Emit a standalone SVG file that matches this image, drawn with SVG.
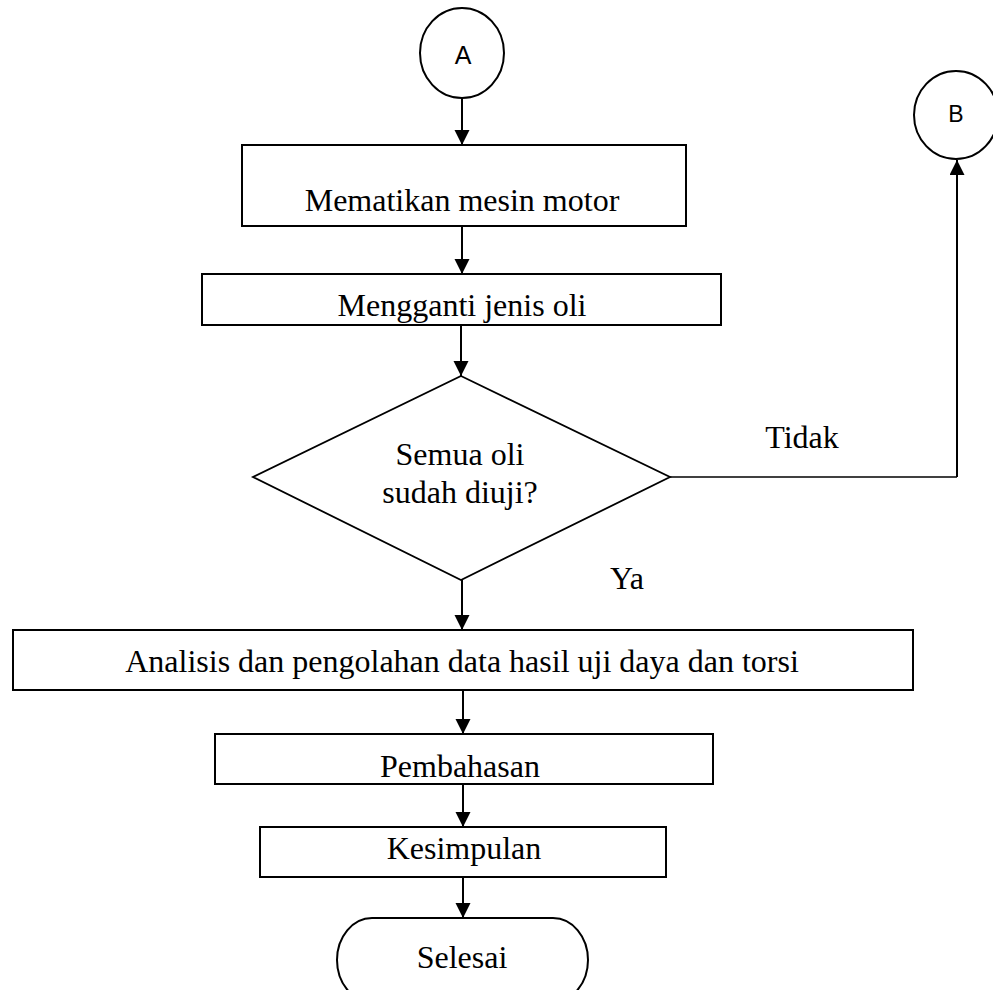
<svg xmlns="http://www.w3.org/2000/svg" width="993" height="990" viewBox="0 0 993 990">
<style>
.box{fill:#fff;stroke:#000;stroke-width:2}
.thin{fill:#fff;stroke:#000;stroke-width:1.8}
.t{font-family:"Liberation Serif","Times New Roman",serif;font-size:32px;fill:#000;text-anchor:middle}
.sa{font-family:"Liberation Sans",Arial,sans-serif;font-size:25px;fill:#000;text-anchor:middle}
.sb{font-family:"Liberation Sans",Arial,sans-serif;font-size:23px;fill:#000;text-anchor:middle}
.c{fill:none;stroke:#000;stroke-width:2}
</style>
<defs>
<marker id="ah" markerUnits="userSpaceOnUse" markerWidth="16" markerHeight="16" refX="15" refY="7.5" orient="auto">
<path d="M0,0 L15,7.5 L0,15 z" fill="#000"/>
</marker>
</defs>
<rect width="993" height="990" fill="#fff"/>
<g id="connectors">
<line class="c" x1="462" y1="99" x2="462" y2="145" marker-end="url(#ah)"/>
<line class="c" x1="462" y1="226" x2="462" y2="274" marker-end="url(#ah)"/>
<line class="c" x1="461" y1="325" x2="461" y2="376" marker-end="url(#ah)"/>
<line class="c" x1="462" y1="580" x2="462" y2="630" marker-end="url(#ah)"/>
<line class="c" x1="463" y1="690" x2="463" y2="734" marker-end="url(#ah)"/>
<line class="c" x1="463" y1="784" x2="463" y2="827" marker-end="url(#ah)"/>
<line class="c" x1="463" y1="877" x2="463" y2="918" marker-end="url(#ah)"/>
<polyline fill="none" stroke="#000" stroke-width="1.4" points="670,477 957,477"/>
<line class="c" x1="957" y1="477" x2="957" y2="160" marker-end="url(#ah)"/>
<text class="t" x="802" y="448">Tidak</text>
<text class="t" x="627" y="589">Ya</text>
</g>
<g id="nodeA">
<ellipse class="box" cx="462" cy="53" rx="42" ry="45"/>
<text class="sa" x="463" y="64">A</text>
</g>
<g id="nodeB">
<ellipse class="box" cx="956" cy="115" rx="42" ry="44"/>
<text class="sb" x="956" y="122">B</text>
</g>
<g id="box1">
<rect class="box" x="242" y="145" width="444" height="81"/>
<text class="t" x="462" y="211">Mematikan mesin motor</text>
</g>
<g id="box2">
<rect class="box" x="202" y="274" width="519" height="51"/>
<text class="t" x="462" y="316">Mengganti jenis oli</text>
</g>
<g id="decision">
<polygon class="thin" points="461,376 670,477 461,580 253,477"/>
<text class="t" x="460" y="465">Semua oli</text>
<text class="t" x="460" y="503">sudah diuji?</text>
</g>
<g id="box3">
<rect class="box" x="13" y="630" width="900" height="60"/>
<text class="t" x="462" y="672">Analisis dan pengolahan data hasil uji daya dan torsi</text>
</g>
<g id="box4">
<rect class="box" x="215" y="734" width="498" height="50"/>
<text class="t" x="460" y="777">Pembahasan</text>
</g>
<g id="box5">
<rect class="box" x="260" y="827" width="406" height="50"/>
<text class="t" x="464" y="859">Kesimpulan</text>
</g>
<g id="end">
<path class="box" d="M372,918 H553 A35,42 0 0 1 553,1002 H372 A35,42 0 0 1 372,918 Z"/>
<text class="t" x="462" y="968">Selesai</text>
</g>
</svg>
